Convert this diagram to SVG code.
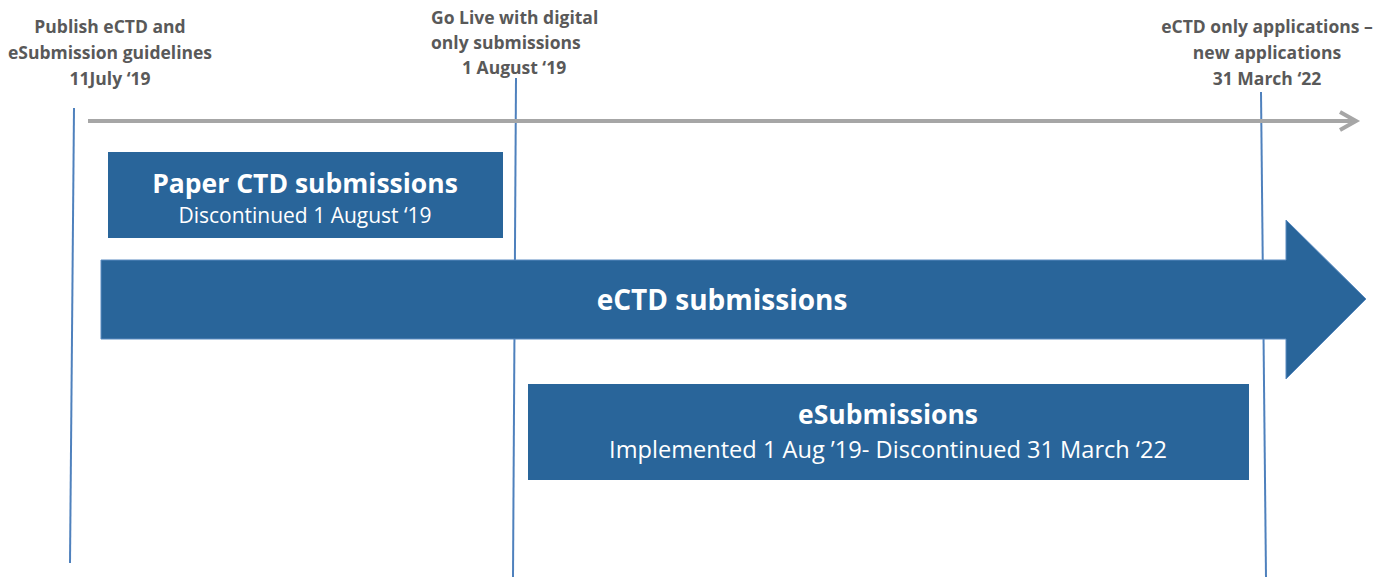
<svg xmlns="http://www.w3.org/2000/svg" width="1387" height="577" viewBox="0 0 1387 577">
<defs>
<style>
.lbl{font-family:"Open Sans","Liberation Sans",sans-serif;font-weight:bold;font-size:17.5px;fill:#595959}
.box{fill:#29659A}
.t1{font-family:"Open Sans","Liberation Sans",sans-serif;font-weight:bold;font-size:26.5px;fill:#ffffff}
.t2{font-family:"Open Sans","Liberation Sans",sans-serif;font-size:21px;fill:#ffffff}
.vl{stroke:#4F81BD;stroke-width:2;fill:none}
</style>
</defs>
<g id="connectors">
<line class="vl" x1="74" y1="108" x2="70" y2="563"/>
<line class="vl" x1="516" y1="78" x2="513" y2="577"/>
<line class="vl" x1="1261" y1="92" x2="1266" y2="577"/>
<line x1="88" y1="121" x2="1354" y2="121" stroke="#A6A6A6" stroke-width="4"/>
<polyline points="1340,112 1356,121 1340,130" fill="none" stroke="#A6A6A6" stroke-width="4"/>
</g>
<g id="label-publish">
<text class="lbl" text-anchor="middle" x="110" y="33">Publish eCTD and</text>
<text class="lbl" text-anchor="middle" x="110" y="59">eSubmission guidelines</text>
<text class="lbl" text-anchor="middle" x="110" y="85">11July ‘19</text>
</g>
<g id="label-golive">
<text class="lbl" x="431" y="24">Go Live with digital</text>
<text class="lbl" x="431" y="49">only submissions</text>
<text class="lbl" x="462" y="74">1 August ‘19</text>
</g>
<g id="label-ectdonly">
<text class="lbl" text-anchor="middle" x="1267" y="33">eCTD only applications –</text>
<text class="lbl" text-anchor="middle" x="1267" y="59">new applications</text>
<text class="lbl" text-anchor="middle" x="1267" y="85">31 March ‘22</text>
</g>
<g id="paper-ctd">
<rect class="box" x="108" y="152" width="395" height="86"/>
<text class="t1" text-anchor="middle" x="305" y="193">Paper CTD submissions</text>
<text class="t2" text-anchor="middle" x="305" y="223">Discontinued 1 August ‘19</text>
</g>
<g id="ectd">
<polygon class="box" points="101,260 1286,260 1286,220 1366,299 1286,379 1286,339 101,339" stroke="#5B8BC0" stroke-width="1"/>
<text class="t1" text-anchor="middle" x="722" y="310" style="font-size:28px">eCTD submissions</text>
</g>
<g id="esubmissions">
<rect class="box" x="528" y="384" width="721" height="96"/>
<text class="t1" text-anchor="middle" x="888" y="424">eSubmissions</text>
<text class="t2" text-anchor="middle" x="888" y="458" style="font-size:23.6px">Implemented 1 Aug ’19- Discontinued 31 March ‘22</text>
</g>
</svg>
